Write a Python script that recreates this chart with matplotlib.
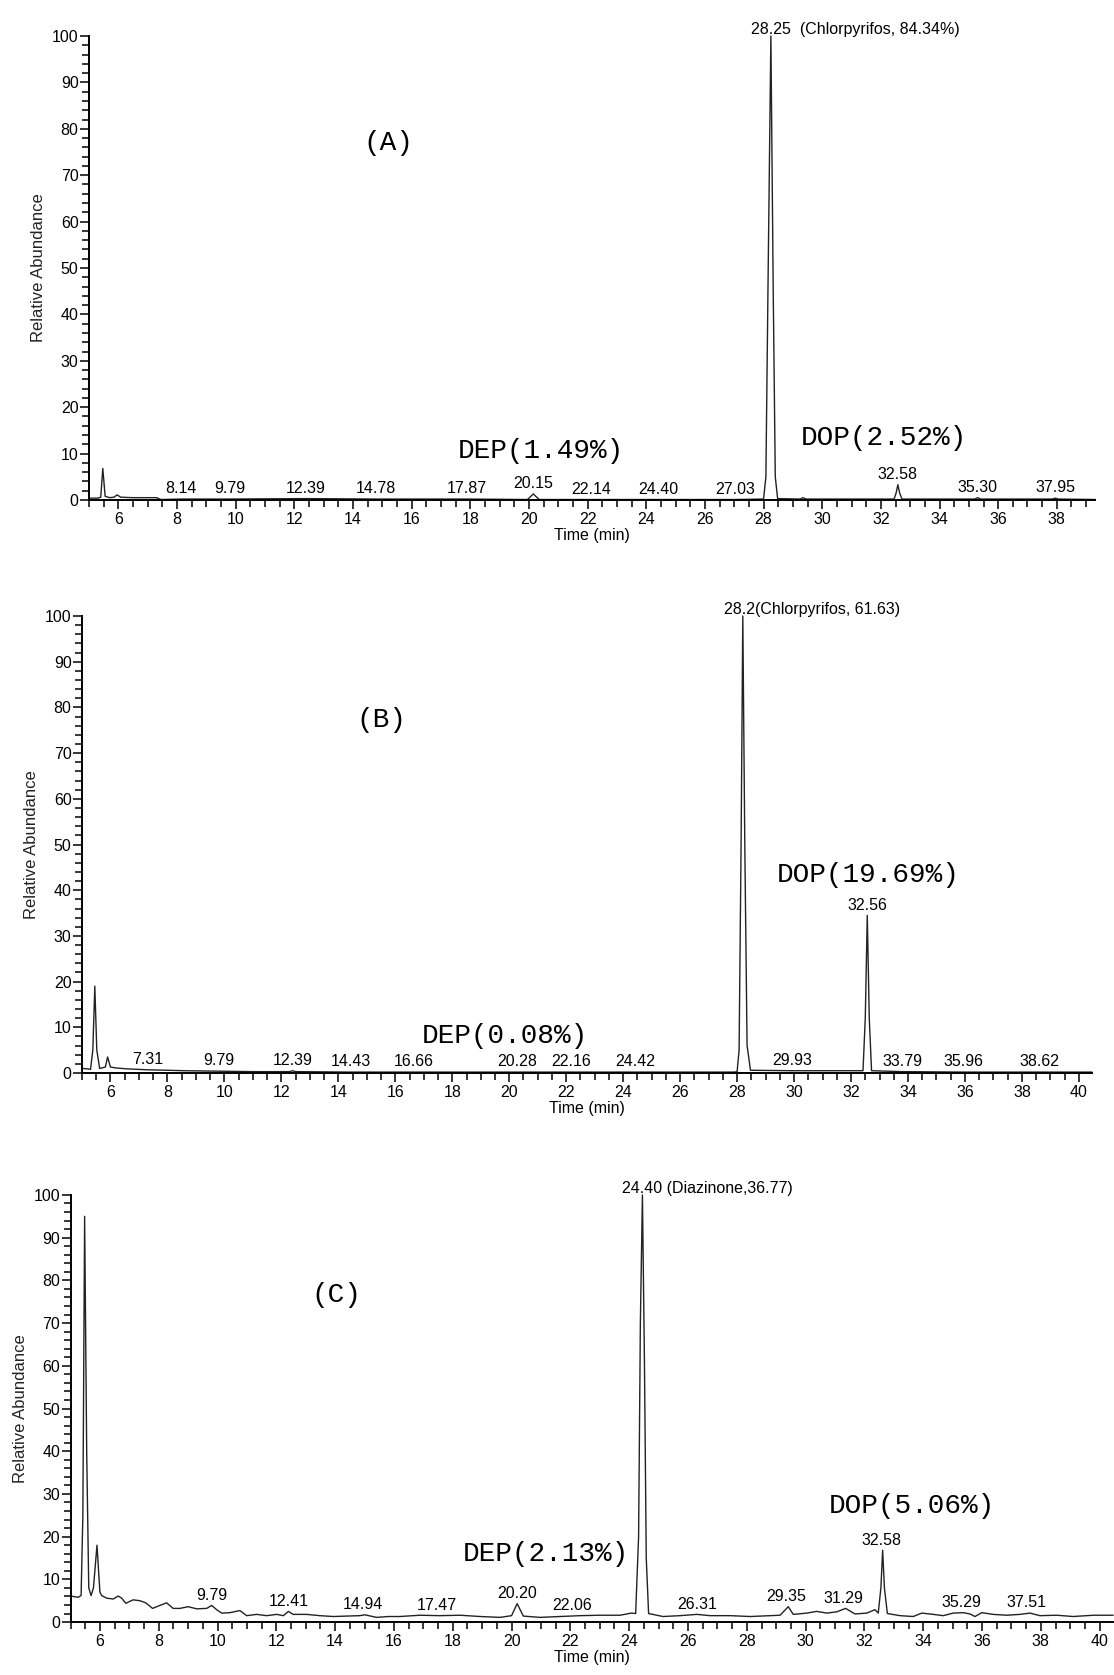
import numpy as np
import matplotlib.pyplot as plt
from matplotlib.ticker import MultipleLocator

# ---- panel A: trace vertices (min, %)
a_time = [5.0, 5.3, 5.4, 5.47, 5.55, 5.7, 5.85, 5.96, 6.08, 6.5, 7.0, 7.3, 7.45,
          8.14, 9.79, 12.39, 14.78, 17.87, 19.95, 20.15, 20.35, 22.14, 24.40,
          27.03, 28.0, 28.08, 28.15, 28.25, 28.33, 28.4, 28.48, 29.25, 29.34,
          29.45, 32.45, 32.52, 32.58, 32.64, 32.72, 35.2, 35.3, 35.4, 37.85,
          37.95, 38.05, 39.3]
a_abund = [0.4, 0.4, 0.6, 6.8, 0.8, 0.5, 0.6, 1.1, 0.6, 0.5, 0.5, 0.5, 0.1,
           0.2, 0.2, 0.3, 0.2, 0.2, 0.1, 1.3, 0.1, 0.1, 0.1,
           0.1, 0.2, 5, 45, 100, 45, 5, 0.3, 0.2, 0.5,
           0.2, 0.2, 1.5, 3.3, 1.5, 0.2, 0.2, 0.5, 0.2, 0.2,
           0.4, 0.2, 0.1]
a_rt = [8.14, 9.79, 12.39, 14.78, 17.87, 20.15, 22.14, 24.40, 27.03, 32.58, 35.30, 37.95]

# ---- panel B
b_time = [5.0, 5.2, 5.3, 5.38, 5.45, 5.52, 5.62, 5.82, 5.9, 6.0, 6.2, 6.6, 7.31,
          8.0, 8.6, 9.79, 11.0, 12.3, 12.39, 12.5, 14.43, 16.66, 20.28, 22.16,
          24.42, 27.9, 28.0, 28.07, 28.14, 28.2, 28.27, 28.35, 28.47, 29.93,
          32.3, 32.42, 32.5, 32.57, 32.64, 32.72, 33.79, 35.96, 38.62, 40.45]
b_abund = [1.0, 0.9, 0.8, 5, 19, 5, 1.0, 1.3, 3.5, 1.3, 1.1, 0.9, 0.7,
           0.6, 0.5, 0.4, 0.3, 0.3, 0.5, 0.3, 0.2, 0.2, 0.2, 0.2,
           0.2, 0.2, 0.3, 5, 50, 100, 50, 6, 0.6, 0.5,
           0.5, 0.5, 12, 34.5, 12, 0.5, 0.3, 0.2, 0.2, 0.2]
b_rt = [7.31, 9.79, 12.39, 14.43, 16.66, 20.28, 22.16, 24.42, 29.93, 32.56, 33.79, 35.96, 38.62]

# ---- panel C
c_time = [5.0, 5.26, 5.36, 5.42, 5.48, 5.55, 5.62, 5.7, 5.78, 5.9, 6.0, 6.06,
          6.23, 6.45, 6.62, 6.74, 6.88, 7.13, 7.36, 7.56, 7.79, 8.04, 8.27,
          8.49, 8.72, 9.0, 9.29, 9.63, 9.8, 9.97, 10.14, 10.42, 10.76, 10.99,
          11.33, 11.67, 12.01, 12.24, 12.41, 12.57, 13.03, 13.48, 13.94, 14.39,
          14.84, 15.01, 15.41, 15.81, 16.2, 16.88, 17.56, 18.25, 18.93, 19.61,
          20.0, 20.19, 20.4, 20.97, 21.65, 22.33, 23.0, 23.69, 24.07, 24.22,
          24.32, 24.38, 24.45, 24.52, 24.58, 24.66, 25.15, 25.73, 26.3, 26.75,
          27.43, 28.12, 28.8, 29.13, 29.41, 29.58, 30.04, 30.38, 30.72, 31.06,
          31.36, 31.68, 32.08, 32.36, 32.47, 32.56, 32.62, 32.68, 32.78, 33.21,
          33.66, 33.95, 34.34, 34.68, 35.02, 35.36, 35.59, 35.76, 35.99, 36.38,
          36.84, 37.29, 37.63, 37.97, 38.54, 39.1, 39.79, 40.45]
c_abund = [6.1, 5.8, 6.2, 25, 95, 40, 8, 6.2, 8, 18, 7, 6.2,
           5.6, 5.4, 6.1, 5.6, 4.4, 5.2, 5.0, 4.5, 3.2, 3.9, 4.5,
           3.2, 3.2, 3.6, 3.1, 3.2, 3.9, 2.9, 2.1, 2.2, 2.7, 1.5,
           1.8, 1.5, 1.8, 1.5, 2.5, 1.8, 1.8, 1.5, 1.3, 1.4,
           1.5, 1.7, 1.1, 1.3, 1.3, 1.6, 1.5, 1.6, 1.3, 1.1,
           1.5, 4.3, 1.4, 1.1, 1.3, 1.5, 1.6, 1.6, 2.1, 2.0,
           20, 70, 100, 60, 15, 2.0, 1.3, 1.5, 1.8, 1.5,
           1.5, 1.3, 1.5, 1.6, 3.6, 1.8, 2.1, 2.5, 2.1, 2.4,
           3.2, 1.9, 2.1, 2.9, 2.1, 8, 16.8, 8, 2.0, 1.5,
           1.3, 2.1, 1.8, 1.5, 2.1, 2.2, 1.9, 1.3, 2.2, 1.8,
           1.6, 1.8, 2.1, 1.5, 1.6, 1.3, 1.6, 1.6]
c_rt = [9.79, 12.41, 14.94, 17.47, 20.20, 22.06, 26.31, 29.35, 31.29, 32.58, 35.29, 37.51]

panels = [
    dict(t=a_time, y=a_abund, rt=a_rt, xmax=39.3, xt=range(6, 39, 2),
         rect=[0.0799, 0.7015, 0.903, 0.277], tag="(A)", tag_xy=(15.2, 77),
         top="28.25  (Chlorpyrifos, 84.34%)", top_x=27.57,
         notes=[("DEP(1.49%)", 20.4, 10.6), ("DOP(2.52%)", 32.1, 13.4)]),
    dict(t=b_time, y=b_abund, rt=b_rt, xmax=40.45, xt=range(6, 41, 2),
         rect=[0.0736, 0.3594, 0.9064, 0.2728], tag="(B)", tag_xy=(15.5, 77.2),
         top="28.2(Chlorpyrifos, 61.63)", top_x=27.53,
         notes=[("DEP(0.08%)", 19.85, 8.1), ("DOP(19.69%)", 32.6, 43.3)]),
    dict(t=c_time, y=c_abund, rt=c_rt, xmax=40.45, xt=range(6, 41, 2),
         rect=[0.0633, 0.0316, 0.9357, 0.255], tag="(C)", tag_xy=(14.05, 76.6),
         top="24.40 (Diazinone,36.77)", top_x=23.75,
         notes=[("DEP(2.13%)", 21.15, 16.0), ("DOP(5.06%)", 33.6, 27.1)]),
]

sans = "Liberation Sans"
mono = "Liberation Mono"

fig = plt.figure(figsize=(11.14, 16.75), dpi=100)

for p in panels:
    ax = fig.add_axes(p["rect"])
    t = np.array(p["t"])
    y = np.array(p["y"])
    ax.plot(t, y, color="#222222", linewidth=1.0, clip_on=False)
    ax.set_xlim(5, p["xmax"])
    ax.set_ylim(0, 100)

    for s in ["top", "right"]:
        ax.spines[s].set_visible(False)
    ax.spines["left"].set_linewidth(1.4)
    ax.spines["bottom"].set_linewidth(1.4)

    ax.set_xticks(list(p["xt"]))
    ax.xaxis.set_minor_locator(MultipleLocator(0.5))
    ax.set_yticks(range(0, 101, 10))
    ax.yaxis.set_minor_locator(MultipleLocator(2))
    ax.tick_params(which="major", length=6.5, width=1.1, labelsize=11.5, pad=1)
    ax.tick_params(which="minor", length=4.8, width=1.1)
    ax.tick_params(axis="x", pad=2)
    for lab in ax.get_xticklabels() + ax.get_yticklabels():
        lab.set_fontfamily(sans)

    ax.set_xlabel("Time (min)", fontfamily=sans, fontsize=11.5, labelpad=1)
    ax.set_ylabel("Relative Abundance", fontfamily=sans, fontsize=12, labelpad=4, color="#222222")

    # retention time labels sit on top of the local trace maximum
    for rt in p["rt"]:
        near = (t > rt - 0.2) & (t < rt + 0.2)
        h = y[near].max() if near.any() else np.interp(rt, t, y)
        ax.annotate(f"{rt:.2f}", (rt, h), xytext=(0, 2), textcoords="offset points",
                    ha="center", va="bottom", fontsize=11.5, fontfamily=sans)

    ax.text(p["top_x"], 99.8, p["top"], ha="left", va="bottom",
            fontsize=11.5, fontfamily=sans, clip_on=False)
    ax.text(p["tag_xy"][0], p["tag_xy"][1], p["tag"], ha="center", va="center",
            fontsize=20, fontfamily=mono)
    for txt, x, yy in p["notes"]:
        ax.text(x, yy, txt, ha="center", va="center", fontsize=20, fontfamily=mono)

fig.savefig("out.png", dpi=100)
